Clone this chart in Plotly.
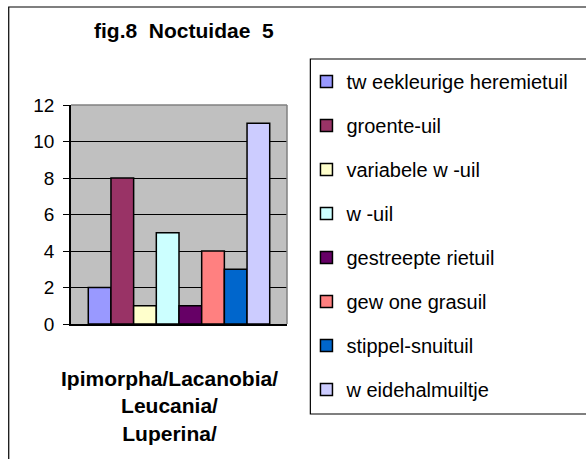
import plotly.graph_objects as go

category = "Ipimorpha/Lacanobia/<br>Leucania/<br>Luperina/"
species = ["tw eekleurige heremietuil", "groente-uil", "variabele w -uil", "w -uil",
           "gestreepte rietuil", "gew one grasuil", "stippel-snuituil", "w eidehalmuiltje"]
counts = [2, 8, 1, 5, 1, 4, 3, 11]
colors = ["#9999FF", "#993366", "#FFFFCC", "#CCFFFF", "#660066", "#FF8080", "#0066CC", "#CCCCFF"]
title = "fig.8  Noctuidae  5"

W, H = 586, 459
L, R, T, B = 71, 293, 105, 324  # plot area in px
pw, ph = R - L, B - T

def px(x):
    return (x - L) / pw

def py(y):
    return (B - y) / ph

FONT = "Arial, Liberation Sans, sans-serif"

fig = go.Figure()
for i, (name, v, c) in enumerate(zip(species, counts, colors)):
    fig.add_trace(go.Bar(
        x=[category], y=[v], name=name, marker_color=c,
        marker_line=dict(color="black", width=1.5),
        legendgroup=f"g{i}",
    ))

fig.update_layout(
    width=W, height=H,
    margin=dict(l=L, r=W - R, t=T, b=H - B),
    paper_bgcolor="white", plot_bgcolor="#C0C0C0",
    barmode="group", bargap=0.16, bargroupgap=0,
    font=dict(family=FONT, color="black"),
    showlegend=True,
    legend=dict(
        x=px(313), y=py(62), xanchor="left", yanchor="top",
        font=dict(size=20, family=FONT, color="black"),
        tracegroupgap=15, bgcolor="rgba(0,0,0,0)", borderwidth=0,
        itemclick=False, maxheight=420,
    ),
    xaxis=dict(showticklabels=False, showline=True, linecolor="black", linewidth=1.5,
               ticks="", showgrid=False),
    yaxis=dict(range=[0, 12], tickvals=[0, 2, 4, 6, 8, 10, 12], showline=True,
               linecolor="black", linewidth=1.5, ticks="outside", ticklen=6,
               tickcolor="black", gridcolor="black", gridwidth=1, ticklabelstandoff=5,
               tickfont=dict(size=19, family=FONT, color="black"), zeroline=False),
    annotations=[
        dict(text="<b>" + title + "</b>", x=px(187), y=py(31), xref="paper", yref="paper",
             showarrow=False, font=dict(size=21, family=FONT, color="black"),
             xanchor="center", yanchor="middle"),
        dict(text="<b>" + category + "</b>", x=px(172), y=py(406), xref="paper", yref="paper",
             showarrow=False, font=dict(size=21, family=FONT, color="black"),
             xanchor="center", yanchor="middle"),
    ],
    shapes=[
        dict(type="rect", xref="paper", yref="paper", x0=px(7), x1=px(620), y0=py(7), y1=py(520),
             line=dict(color="black", width=1.2), layer="below"),
        dict(type="rect", xref="paper", yref="paper", x0=px(317), x1=px(620), y0=py(59), y1=py(414),
             line=dict(color="black", width=1.2), layer="below"),
        dict(type="line", xref="paper", yref="paper", x0=0, x1=1, y0=1, y1=1,
             line=dict(color="#808080", width=1.5), layer="above"),
        dict(type="line", xref="paper", yref="paper", x0=1, x1=1, y0=0, y1=1,
             line=dict(color="#808080", width=1.5), layer="above"),
    ],
)

fig.write_html("out.html", config={"displayModeBar": False},
               post_script="document.body.style.margin='0';")
